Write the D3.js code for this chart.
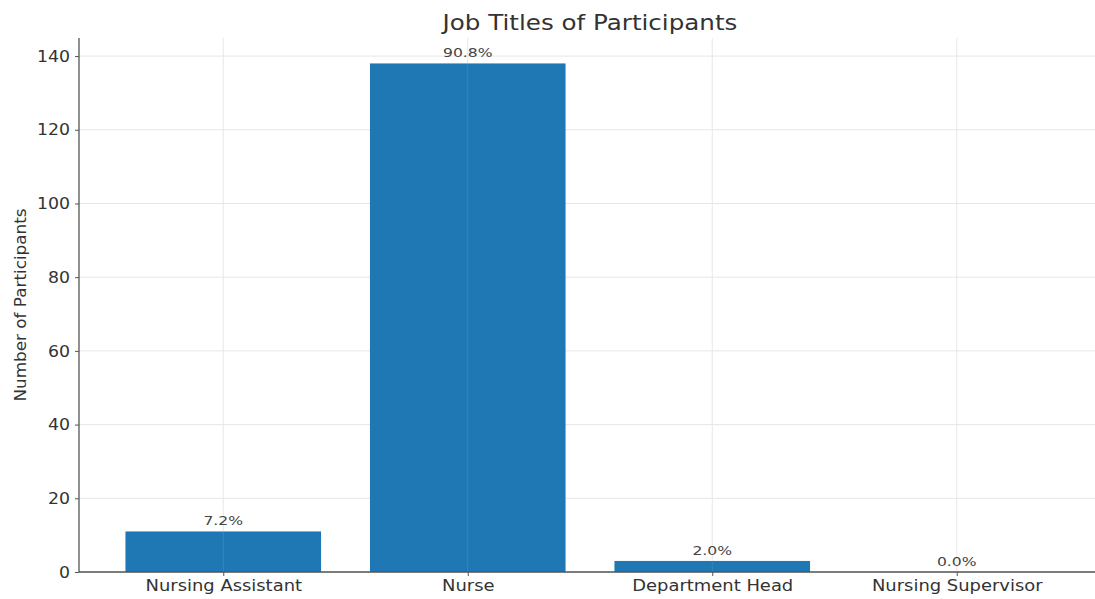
<!DOCTYPE html>
<html>
<head>
<meta charset="utf-8">
<script src="https://cdn.jsdelivr.net/npm/d3@7"></script>
<style>
  html, body { margin: 0; padding: 0; background: #fff; }
  svg { display: block; font-family: "DejaVu Sans", sans-serif; }
</style>
</head>
<body>
<svg id="chart" width="1095" height="599"></svg>
<script>
// Job titles and participant counts
const categories = ["Nursing Assistant", "Nurse", "Department Head", "Nursing Supervisor"];
const counts = [11, 138, 3, 0];
const percentLabels = ["7.2%", "90.8%", "2.0%", "0.0%"];
const yTicks = [0, 20, 40, 60, 80, 100, 120, 140];

const svg = d3.select("#chart");
const margin = { left: 79, top: 38, bottom: 572 };
const plotRight = 1101;

// Bars sit at integer indices with 0.8-wide bars
const idx = categories.map((_, i) => i);
const x = d3.scaleLinear().domain([-0.59, 3.59]).range([margin.left, plotRight]);
const yMax = d3.max(counts) * 1.05;
const y = d3.scaleLinear().domain([0, yMax]).range([margin.bottom, margin.top]);

const gridColor = "#e6e6e6";
const textColor = "#333";

// Widen glyphs horizontally by a factor
function widen(sel, f) {
  sel.each(function () {
    const len = this.getComputedTextLength();
    d3.select(this).attr("textLength", len * f).attr("lengthAdjust", "spacingAndGlyphs");
  });
}

// Grid lines
svg.append("g").selectAll("line").data(yTicks).join("line")
  .attr("x1", margin.left).attr("x2", plotRight)
  .attr("y1", d => y(d)).attr("y2", d => y(d))
  .attr("stroke", gridColor).attr("stroke-width", 1);
svg.append("g").selectAll("line").data(idx).join("line")
  .attr("x1", d => x(d)).attr("x2", d => x(d))
  .attr("y1", margin.top).attr("y2", margin.bottom)
  .attr("stroke", gridColor).attr("stroke-width", 1);

// Bars
svg.append("g").selectAll("rect").data(counts).join("rect")
  .attr("x", (d, i) => x(i - 0.4))
  .attr("width", (d, i) => x(i + 0.4) - x(i - 0.4))
  .attr("y", d => y(d))
  .attr("height", d => y(0) - y(d))
  .attr("fill", "#1f77b4");

// Faint grid showing through the bars
svg.append("g").selectAll("line").data(idx).join("line")
  .attr("x1", d => x(d)).attr("x2", d => x(d))
  .attr("y1", margin.top).attr("y2", margin.bottom)
  .attr("stroke", "#ffffff").attr("stroke-opacity", 0.12).attr("stroke-width", 1);

// Percentage labels
const pct = svg.append("g").selectAll("text").data(counts).join("text")
  .attr("x", (d, i) => x(i))
  .attr("y", d => y(d) - 6)
  .attr("text-anchor", "middle")
  .attr("font-size", 13)
  .attr("fill", "#444")
  .text((d, i) => percentLabels[i]);
widen(pct, 1.2);

// Y axis
const yAxis = d3.axisLeft(y).tickValues(yTicks).tickSize(4).tickPadding(5).tickFormat(d3.format("d"));
const gy = svg.append("g").attr("transform", `translate(${margin.left},0)`).call(yAxis);
gy.select(".domain").attr("stroke", "#555").attr("stroke-width", 1.3).attr("d", `M0,${margin.top}V${margin.bottom}`);
gy.selectAll(".tick line").attr("stroke", "#555");
gy.selectAll(".tick text").attr("font-size", 16).attr("fill", textColor).attr("font-family", "DejaVu Sans");
widen(gy.selectAll(".tick text"), 1.08);

// X axis
const xAxis = d3.axisBottom(x).tickValues(idx).tickSize(4).tickPadding(4).tickFormat(i => categories[i]);
const gx = svg.append("g").attr("transform", `translate(0,${margin.bottom})`).call(xAxis);
gx.select(".domain").attr("stroke", "#555").attr("stroke-width", 1.3).attr("d", `M${margin.left},0H${plotRight}`);
gx.selectAll(".tick line").attr("stroke", "#555");
gx.selectAll(".tick text").attr("font-size", 16).attr("fill", textColor).attr("font-family", "DejaVu Sans");
widen(gx.selectAll(".tick text"), 1.12);

// Title
const title = svg.append("text")
  .attr("x", (margin.left + plotRight) / 2)
  .attr("y", 30)
  .attr("text-anchor", "middle")
  .attr("font-size", 21)
  .attr("fill", textColor)
  .text("Job Titles of Participants");
widen(title, 1.17);

// Y axis label
const ylab = svg.append("text")
  .attr("transform", `translate(26,${(margin.top + margin.bottom) / 2}) rotate(-90)`)
  .attr("text-anchor", "middle")
  .attr("font-size", 15)
  .attr("fill", textColor)
  .text("Number of Participants");
widen(ylab, 1.12);
</script>
</body>
</html>
